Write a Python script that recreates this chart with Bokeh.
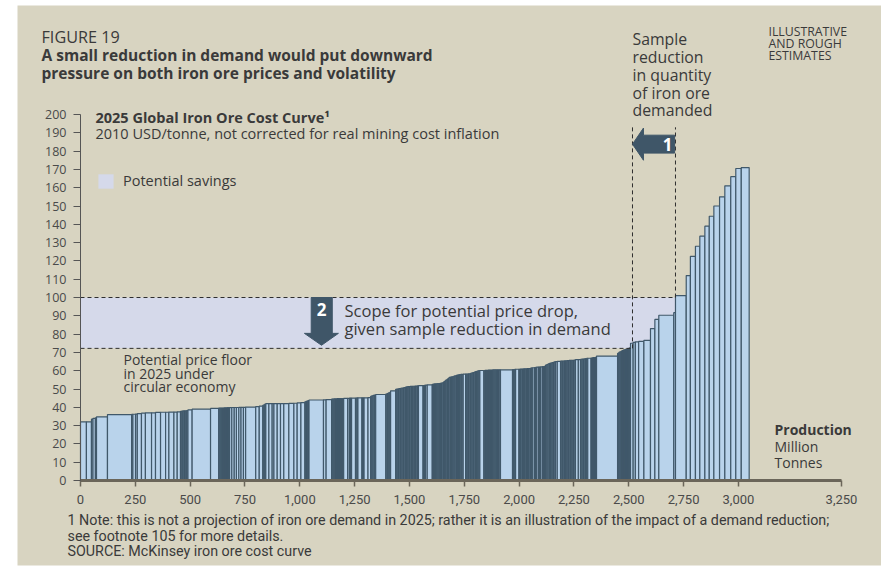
from bokeh.plotting import figure
from bokeh.models import Label, FixedTicker, Legend, LegendItem, Range1d
from bokeh.embed import file_html
from bokeh.resources import INLINE
import numpy as np

# ---------------- data ----------------
widths = [
    27, 23, 7, 11, 5, 50, 110, 6, 12, 8, 19, 18, 28, 18,
    23, 23, 15, 23, 15, 15, 6, 5, 6, 5, 6, 6, 19, 84, 37,
    5, 5, 5, 5, 5, 5, 5, 5, 5, 5, 10, 11, 10, 11, 10, 11, 10, 46, 16, 16, 5, 4, 5,
    14, 15, 8, 15, 15, 15, 23, 23, 15, 17, 18, 5, 5, 4, 5, 66, 12, 25,
    5, 5, 5, 5, 5, 5, 5, 5, 5, 5, 5, 18, 8, 5, 5, 18, 6, 5, 18, 5, 5, 18, 12,
    5, 6, 6, 6, 46, 6, 4, 4, 4, 4, 23, 5, 6, 5, 6, 6, 6, 5, 6,
    5, 5, 6, 5, 6, 5, 6, 5, 5, 6, 5, 21, 5.5, 5.5, 8, 23, 5, 5, 5, 5, 5, 5, 5, 5, 5, 6,
    5, 5, 6, 5, 5, 6, 5, 5, 5, 5, 6, 5, 5, 5, 6, 5, 6, 11, 5, 6, 5, 6, 6, 6, 5, 6,
    5, 5, 5, 5, 18, 5, 5, 5, 5, 5, 5, 5, 5, 5, 5, 5, 5, 5, 5, 6, 55,
    5, 5, 4, 15, 5, 5, 6, 5, 5, 6, 5, 5, 5, 6,
    5, 5, 8, 5, 5, 8, 5, 5, 8, 5, 5, 4,
    6, 6, 6, 5, 6, 6, 5, 6,
    8, 15, 6, 5, 6, 5, 6, 6, 5, 6,
    6, 6, 5, 6,
    13, 10, 6, 6, 5, 6,
    5, 5, 15, 5, 5, 5, 5, 5,
    96,
    5, 5, 5, 5, 5, 5, 5, 5, 5, 5, 5, 4,
    12, 10, 15, 24, 30, 20, 18, 68, 8, 49, 19, 23, 20, 23, 20, 21, 26, 24, 27, 23, 25, 36,
]
costs = [
    32, 32, 33.5, 34, 34.3, 34.8, 36, 36.1, 36.2, 36.3, 36.5, 36.8, 37, 37,
    37.2, 37.3, 37.3, 37.4, 37.4, 37.5, 37.8, 37.9, 38, 38, 38.1, 38.2, 38.6, 39, 39.4,
    39.5, 39.5, 39.6, 39.6, 39.6, 39.7, 39.7, 39.7, 39.8, 39.8, 39.8, 39.9, 39.9, 39.9, 40, 40, 40, 40.1, 40.4, 40.6, 41.1, 41.4, 41.7,
    42, 42, 42, 42, 42, 42, 42, 42.1, 42.2, 42.4, 42.6, 43, 43.2, 43.4, 43.6, 44, 44.1, 44.2,
    44.5, 44.5, 44.6, 44.6, 44.6, 44.7, 44.7, 44.7, 44.8, 44.8, 44.8, 44.9, 44.9, 45, 45, 45, 45, 45.1, 45.1, 45.1, 45.2, 45.2, 45.3,
    46, 46.3, 46.5, 46.7, 47, 47.2, 47.5, 47.7, 47.9, 48.2, 49, 49.8, 50, 50.1, 50.2, 50.4, 50.5, 50.6, 50.7,
    51.1, 51.2, 51.3, 51.3, 51.4, 51.4, 51.5, 51.5, 51.6, 51.6, 51.7, 51.8, 51.9, 52, 52.1, 52.3, 52.5, 52.7, 52.8, 52.8, 52.9, 53, 53, 53.1, 53.2, 53.3,
    53.8, 54.3, 54.8, 55.3, 55.8, 56.3, 56.5, 56.7, 56.8, 57, 57.2, 57.4, 57.6, 57.8, 57.9, 58, 58, 58.1, 58.2, 58.2, 58.3, 58.3, 58.6, 58.8, 59, 59.2,
    59.5, 59.7, 59.9, 60, 60.1, 60.1, 60.2, 60.2, 60.2, 60.3, 60.3, 60.3, 60.3, 60.4, 60.4, 60.4, 60.4, 60.4, 60.5, 60.5, 60.5,
    60.6, 60.6, 60.7, 60.8, 60.8, 60.9, 60.9, 60.9, 61, 61, 61, 61.1, 61.1, 61.2,
    61.4, 61.5, 61.6, 61.7, 61.8, 61.9, 62, 62, 62.1, 62.2, 62.3, 62.4,
    63, 63.4, 63.8, 64, 64.2, 64.4, 64.6, 64.8,
    65, 65.1, 65.2, 65.3, 65.3, 65.4, 65.4, 65.5, 65.5, 65.6,
    65.6, 65.7, 65.7, 65.8,
    66, 66.1, 66.2, 66.3, 66.4, 66.5,
    66.6, 66.7, 66.8, 66.9, 67, 67.1, 67.2, 67.3,
    68,
    69.5, 70, 70.3, 70.6, 71, 71.2, 71.4, 71.6, 71.8, 72, 72.2, 72.5,
    75, 75.5, 75.8, 76, 76.6, 83, 88, 90.3, 91.7, 101, 112, 122.5, 128, 133.5, 139, 144.4, 150, 155, 161, 166, 170.5, 171,
]

x_tick_values = [0, 250, 500, 750, 1000, 1250, 1500, 1750, 2000, 2250, 2500, 2750, 3000, 3470]
x_tick_labels = ["0", "250", "500", "750", "1,000", "1,250", "1,500", "1,750", "2,000",
                 "2,250", "2,500", "2,750", "3,000", "3,250"]
y_tick_values = [0, 10, 20, 30, 40, 50, 60, 70, 80, 90, 100, 110, 120, 130, 140, 150,
                 160, 170, 180, 190, 200]

base_demand = 2713      # demand before the reduction
reduced_demand = 2517   # demand after the sample reduction
current_price = 100
floor_price = 72.2

# ---------------- styling ----------------
BG = "#d8d4c1"
BAR_FILL = "#b9d3eb"
BAR_LINE = "#40586a"
DARK = "#3f5668"
SHADE = "#d5d9ea"
TXT = "#3a3a3a"
FONT = "Open Sans"
NARROW = "Roboto"

W, H = 881, 580
X_MAX = 3470
XS = 761 / X_MAX        # px per Mt
YS = 366 / 200.0        # px per USD


def dx(px):
    return (px - 80) / XS


def dy(py):
    return (480 - py) / YS


p = figure(width=W, height=H, output_backend="svg", toolbar_location=None, title=None,
           x_range=Range1d(dx(0), dx(W)), y_range=Range1d(dy(H), dy(0)),
           min_border=0, min_border_left=0, min_border_right=0,
           min_border_top=0, min_border_bottom=0)
p.background_fill_color = "white"
p.border_fill_color = "white"
p.outline_line_color = None
p.xgrid.visible = False
p.ygrid.visible = False

# beige panel of the figure
p.quad(left=[dx(17)], right=[dx(W + 2)], bottom=[dy(565)], top=[dy(5)],
       fill_color=BG, line_color=None)

# shaded potential savings band
shade = p.quad(left=[0], right=[base_demand], bottom=[floor_price], top=[current_price],
               fill_color=SHADE, line_color=None)

# cost curve bars
w = np.array(widths, dtype=float)
rights = np.cumsum(w)
lefts = rights - w
p.quad(left=lefts, right=rights, bottom=0, top=costs,
       fill_color=BAR_FILL, line_color=BAR_LINE, line_width=1.2)

# dashed guide lines
dash = dict(line_color="#2e2e2e", line_width=1, line_dash="4 3")
p.line([0, base_demand], [current_price, current_price], **dash)
p.line([0, reduced_demand], [floor_price, floor_price], **dash)
p.line([reduced_demand, reduced_demand], [floor_price, 193], **dash)
p.line([base_demand, base_demand], [current_price, 193], **dash)

# arrow 1 (leftwards: demand reduction)
hb = reduced_demand + 50
p.patch([reduced_demand, hb, hb, base_demand - 4, base_demand - 4, hb, hb],
        [183.8, 192.6, 188.7, 188.7, 178.9, 178.9, 175.0],
        fill_color=DARK, line_color=DARK)
# arrow 2 (downwards: price drop)
p.patch([1052, 1148, 1148, 1176, 1099, 1021, 1052],
        [current_price, current_price, 80.4, 80.4, 73.9, 80.4, 80.4],
        fill_color=DARK, line_color=DARK)

# axes (drawn at the data origin)
xa = p.xaxis[0]
xa.fixed_location = 0
xa.bounds = (0, X_MAX)
xa.ticker = FixedTicker(ticks=x_tick_values)
xa.major_label_overrides = {v: l for v, l in zip(x_tick_values, x_tick_labels)}
xa.axis_line_width = 3
xa.axis_line_color = "#6b665a"
xa.major_tick_line_color = "#6b665a"
xa.major_tick_line_width = 1.5
xa.major_tick_out = 6
xa.major_tick_in = 0
xa.minor_tick_line_color = None
xa.major_label_text_font = NARROW
xa.major_label_text_font_size = "13px"
xa.major_label_text_color = "#4a4a4a"
xa.major_label_standoff = 8

ya = p.yaxis[0]
ya.fixed_location = 0
ya.bounds = (0, 200)
ya.ticker = FixedTicker(ticks=y_tick_values)
ya.axis_line_color = "#555555"
ya.axis_line_width = 1
ya.major_tick_line_color = "#555555"
ya.major_tick_out = 7
ya.major_tick_in = 0
ya.minor_tick_line_color = None
ya.major_label_text_font = FONT
ya.major_label_text_font_size = "12.5px"
ya.major_label_text_color = "#4a4a4a"
ya.major_label_standoff = 7

# legend
legend = Legend(items=[LegendItem(label="Potential savings", renderers=[shade])],
                location=(96, H - 172 - 18), glyph_width=19, glyph_height=18,
                label_text_font=FONT, label_text_font_size="14.5px", label_text_color=TXT,
                label_standoff=8, label_height=18, padding=0, margin=0, spacing=0,
                border_line_color=None, background_fill_alpha=0)
p.add_layout(legend)


def txt(s, px, py, size, style="normal", font=FONT, color=TXT, align="left", baseline="alphabetic"):
    shift = 0.4 * size if baseline == "alphabetic" else 0
    p.add_layout(Label(x=dx(px), y=dy(py - shift), text=s, text_font=font,
                       text_font_size=f"{size}px", text_font_style=style, text_color=color,
                       text_align=align, text_baseline=baseline))


txt("FIGURE 19", 41, 43, 16.2)
txt("A small reduction in demand would put downward", 41, 61, 15.5, "bold")
txt("pressure on both iron ore prices and volatility", 41, 79, 15.5, "bold")
txt("2025 Global Iron Ore Cost Curve\u00b9", 95, 123, 14.5, "bold")
txt("2010 USD/tonne, not corrected for real mining cost inflation", 95, 139, 14.5)

for i, s in enumerate(["Sample", "reduction", "in quantity", "of iron ore", "demanded"]):
    txt(s, 632, 45 + i * 17.8, 15.8)
for i, s in enumerate(["ILLUSTRATIVE", "AND ROUGH", "ESTIMATES"]):
    txt(s, 768, 36 + i * 12, 12.3)

for i, s in enumerate(["Potential price floor", "in 2025 under", "circular economy"]):
    txt(s, 123, 365 + i * 13.3, 14)
txt("Scope for potential price drop,", 344, 317, 16.5)
txt("given sample reduction in demand", 344, 334.5, 16.5)

txt("Production", 774, 435, 14, "bold")
txt("Million", 774, 452, 14)
txt("Tonnes", 774, 468, 14)

txt("1", 667, 144, 17, "bold", color="white", align="center", baseline="middle")
txt("2", 321, 309, 17, "bold", color="white", align="center", baseline="middle")

txt("1 Note: this is not a projection of iron ore demand in 2025; rather it is an illustration of the impact of a demand reduction;",
    67, 525, 14.3, font=NARROW)
txt("see footnote 105 for more details.", 67, 541, 14.3, font=NARROW)
txt("SOURCE: McKinsey iron ore cost curve", 67, 556.5, 14.3, font=NARROW)

open("out.html", "w").write(file_html(p, INLINE))
